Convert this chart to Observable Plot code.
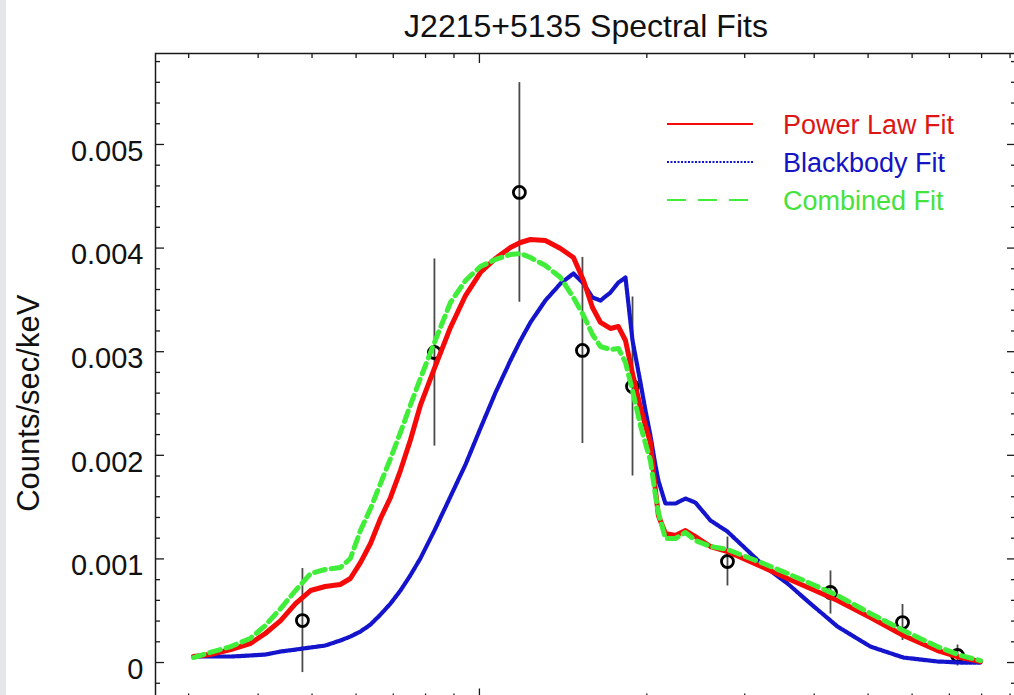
<!DOCTYPE html>
<html>
<head>
<meta charset="utf-8">
<script src="https://cdn.jsdelivr.net/npm/d3@7"></script>
<script src="https://cdn.jsdelivr.net/npm/@observablehq/plot@0.6"></script>
<style>
  html, body { margin: 0; padding: 0; background: #fff; overflow: hidden; }
  #chart { position: absolute; left: 0; top: 0; }
  #edge { position: absolute; left: 0; top: 0; width: 6px; height: 100%; background: #e4e6ea; }
</style>
</head>
<body>
<div id="chart"></div>
<div id="edge"></div>
<script>
// Model energy grid (keV) and the three fitted model spectra (counts/sec/keV)
const energy = [0.306, 0.328, 0.357, 0.387, 0.412, 0.439, 0.467, 0.497, 0.528, 0.562,
  0.586, 0.611, 0.637, 0.664, 0.692, 0.721, 0.751, 0.783, 0.830, 0.887,
  0.944, 1.004, 1.069, 1.137, 1.185, 1.235, 1.314, 1.399, 1.476, 1.539,
  1.597, 1.651, 1.720, 1.778, 1.831, 1.885, 1.948, 1.989, 2.030, 2.073,
  2.098, 2.160, 2.252, 2.347, 2.446, 2.603, 2.793, 3.009, 3.242, 3.581,
  3.938, 4.406, 5.049, 5.788, 6.664, 7.332, 7.962];

const powerLaw = [0.000058, 0.000077, 0.000125, 0.000183, 0.00028, 0.000405, 0.000569, 0.000695, 0.000734, 0.000753,
  0.000811, 0.000965, 0.001149, 0.00139, 0.001593, 0.001853, 0.002143, 0.002481, 0.002838, 0.003234,
  0.003542, 0.003764, 0.0039, 0.004006, 0.004054, 0.004083, 0.004073, 0.003996, 0.003909, 0.003687,
  0.003427, 0.003282, 0.003224, 0.003243, 0.003108, 0.00279, 0.002461, 0.002288, 0.002124, 0.00166,
  0.001419, 0.001245, 0.001226, 0.001274, 0.001216, 0.00112, 0.001071, 0.000994, 0.000917, 0.000811,
  0.000714, 0.000598, 0.000434, 0.000261, 0.000116, 0.000048, 0.00001];

const blackbody = [0.000058, 0.000058, 0.000058, 0.000068, 0.000077, 0.000106, 0.000125, 0.000145, 0.000164, 0.000212,
  0.000251, 0.000299, 0.000367, 0.000463, 0.000569, 0.000695, 0.00084, 0.001004, 0.001274, 0.001602,
  0.001911, 0.002259, 0.002606, 0.002915, 0.003108, 0.003282, 0.003494, 0.003658, 0.003755, 0.003658,
  0.003523, 0.003494, 0.003571, 0.003668, 0.003716, 0.003108, 0.002703, 0.002432, 0.002191, 0.001902,
  0.001757, 0.001535, 0.001535, 0.001583, 0.001544, 0.001371, 0.001264, 0.0011, 0.000936, 0.000763,
  0.000569, 0.000347, 0.000154, 0.000048, 0.00001, 0, 0];

const combined = [0.000048, 0.000097, 0.000154, 0.000232, 0.000357, 0.000521, 0.000695, 0.000859, 0.000898, 0.000917,
  0.001004, 0.001274, 0.001486, 0.001728, 0.001969, 0.00222, 0.002481, 0.002741, 0.003089, 0.003475,
  0.003687, 0.003822, 0.00389, 0.003938, 0.003948, 0.003909, 0.003832, 0.003716, 0.003523, 0.003349,
  0.003166, 0.00305, 0.003021, 0.003031, 0.002896, 0.002625, 0.002288, 0.002114, 0.00195, 0.001612,
  0.001448, 0.001197, 0.001197, 0.001255, 0.001178, 0.00112, 0.001091, 0.001023, 0.000956, 0.000859,
  0.000763, 0.000647, 0.000473, 0.000309, 0.000154, 0.000068, 0.000019];

// Observed binned spectrum with 1-sigma errors
const obsEnergy = [0.4805, 0.830, 1.180, 1.532, 1.885, 2.793, 4.279, 5.766, 7.241];
const obsRate   = [0.000405, 0.002992, 0.004537, 0.003012, 0.002664, 0.000975, 0.000676, 0.000386, 0.000068];
const obsError  = [0.000502, 0.000903, 0.00106, 0.000898, 0.000864, 0.000236, 0.000208, 0.000174, 0.000101];

// Axis ticks
const yMajor = [0, 0.001, 0.002, 0.003, 0.004, 0.005];
const yTickLabels = ["0", "0.001", "0.002", "0.003", "0.004", "0.005"];
const yMinor = [-0.0002, 0.0002, 0.0004, 0.0006, 0.0008, 0.0012, 0.0014, 0.0016, 0.0018,
  0.0022, 0.0024, 0.0026, 0.0028, 0.0032, 0.0034, 0.0036, 0.0038,
  0.0042, 0.0044, 0.0046, 0.0048, 0.0052, 0.0054, 0.0056, 0.0058];
const xMajor = [1];
const xMinor = [0.3, 0.4, 0.5, 0.6, 0.7, 0.8, 0.9, 2, 3, 4, 5, 6, 7, 8, 9];

// Series names and colours
const seriesNames = ["Power Law Fit", "Blackbody Fit", "Combined Fit"];
const seriesColors = ["#f50a0a", "#1414cc", "#40ee3a"];
const textColors = ["#dd1515", "#1414c4", "#45e23c"];

const model = energy.map((e, i) => ({e, pl: powerLaw[i], bb: blackbody[i], comb: combined[i]}));
const obs = obsEnergy.map((e, i) => ({e, r: obsRate[i], lo: obsRate[i] - obsError[i], hi: obsRate[i] + obsError[i]}));

const W = 1018, H = 740;
const mL = 155, mR = 2, mT = 53, mB = 41.5;
const plotW = W - mL - mR, plotH = H - mT - mB;
const axisColor = "#1a1a1a";
const font = "'Liberation Sans', Arial, Helvetica, sans-serif";

const chart = Plot.plot({
  width: W,
  height: H,
  marginLeft: mL, marginRight: mR, marginTop: mT, marginBottom: mB,
  style: {fontFamily: font, background: "#fff", overflow: "visible", maxWidth: "none"},
  x: {type: "log", domain: [0.2615, 9.244], axis: null},
  y: {domain: [-0.000352, 0.005878], axis: null},
  marks: [
    // error bars and data points
    Plot.ruleX(obs, {x: "e", y1: "lo", y2: "hi", stroke: "#4a4a4a", strokeWidth: 1.8}),
    Plot.dot(obs, {x: "e", y: "r", r: 6, stroke: "#000", strokeWidth: 2.8, fill: "none"}),
    // model curves
    Plot.line(model, {x: "e", y: "bb", stroke: seriesColors[1], strokeWidth: 4.2, strokeDasharray: "3 1.2"}),
    Plot.line(model, {x: "e", y: "pl", stroke: seriesColors[0], strokeWidth: 5}),
    Plot.line(model, {x: "e", y: "comb", stroke: seriesColors[2], strokeWidth: 5, strokeDasharray: "11 6"}),
    // frame and inward ticks on all four sides
    Plot.frame({stroke: axisColor, strokeWidth: 1.5}),
    Plot.tickY(yMajor, {y: d => d, insetRight: plotW - 9, stroke: axisColor, strokeWidth: 1.3}),
    Plot.tickY(yMinor, {y: d => d, insetRight: plotW - 5, stroke: axisColor, strokeWidth: 1.3}),
    Plot.tickY(yMajor, {y: d => d, insetLeft: plotW - 9, stroke: axisColor, strokeWidth: 1.3}),
    Plot.tickY(yMinor, {y: d => d, insetLeft: plotW - 5, stroke: axisColor, strokeWidth: 1.3}),
    Plot.tickX(xMajor, {x: d => d, insetBottom: plotH - 10, stroke: axisColor, strokeWidth: 1.3}),
    Plot.tickX(xMinor, {x: d => d, insetBottom: plotH - 5, stroke: axisColor, strokeWidth: 1.3}),
    Plot.tickX(xMajor, {x: d => d, insetTop: plotH - 10, stroke: axisColor, strokeWidth: 1.3}),
    Plot.tickX(xMinor, {x: d => d, insetTop: plotH - 5, stroke: axisColor, strokeWidth: 1.3}),
    // y tick labels
    Plot.axisY(yMajor, {anchor: "left", tickSize: 0, tickPadding: 12, dy: 7, fontSize: 29,
      tickFormat: (d) => yTickLabels[yMajor.indexOf(d)], label: null, fill: "#111"}),
    // y axis title
    Plot.text(["Counts/sec/keV"], {frameAnchor: "left", textAnchor: "middle", lineAnchor: "middle",
      rotate: -90, dx: -126, dy: 27, fontSize: 31, fill: "#111"}),
    // chart title
    Plot.text(["J2215+5135 Spectral Fits"], {frameAnchor: "top", textAnchor: "middle", lineAnchor: "middle",
      dy: -27, fontSize: 32, fill: "#111"})
  ]
});

// Legend in the upper right of the plotting area
const svg = d3.select(chart);
const legend = svg.append("g")
  .attr("font-family", font)
  .attr("font-size", 27)
  .attr("text-anchor", "start");
const legendRows = [124, 162, 200];
const legendDash = [null, "2 1.5", "19 12"];
seriesNames.forEach((name, i) => {
  const y = legendRows[i];
  legend.append("line")
    .attr("x1", 667).attr("x2", 753).attr("y1", y).attr("y2", y)
    .attr("stroke", seriesColors[i]).attr("stroke-width", 2)
    .attr("stroke-dasharray", legendDash[i]);
  legend.append("text")
    .attr("x", 783).attr("y", y + 10)
    .attr("fill", textColors[i])
    .text(name);
});

document.getElementById("chart").appendChild(chart);
</script>
</body>
</html>
